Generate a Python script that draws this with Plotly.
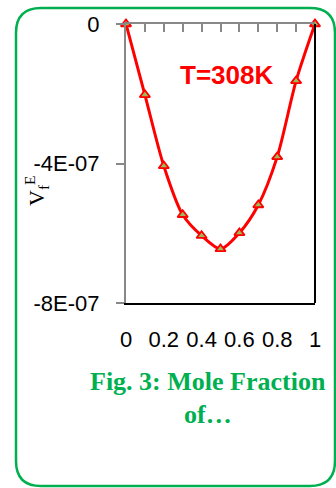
import plotly.graph_objects as go

# Data
mole_fraction = [0.0, 0.1, 0.2, 0.3, 0.4, 0.5, 0.6, 0.7, 0.8, 0.9, 1.0]
vfe = [0.0, -2.03e-7, -4.07e-7, -5.47e-7, -6.07e-7, -6.45e-7, -5.99e-7, -5.19e-7, -3.81e-7, -1.63e-7, 0.0]
y_tickvals = [0, -4e-7, -8e-7]
y_ticktext = ["0", "-4E-07", "-8E-07"]
x_tickvals = [0, 0.2, 0.4, 0.6, 0.8, 1]
x_ticktext = ["0", "0.2", "0.4", "0.6", "0.8", "1"]

W, H = 336, 488
L, R, T, B = 126, 315, 24, 303  # plot area in pixels
PW, PH = R - L, B - T


def px(x):
    return (x - L) / PW


def py(y):
    return (B - y) / PH


fig = go.Figure()
fig.add_trace(go.Scatter(
    x=mole_fraction, y=vfe, mode="lines+markers",
    line=dict(color="#FF0000", width=3, shape="spline", smoothing=0.8),
    marker=dict(symbol="triangle-up", size=9, color="#9BBB59",
                line=dict(color="#FF0000", width=1.8)),
    showlegend=False, cliponaxis=False,
))
# top axis (crossing at 0) with minor ticks
fig.add_trace(go.Scatter(x=[0, 1], y=[None, None], xaxis="x2", showlegend=False,
                         hoverinfo="skip"))

fig.update_layout(
    width=W, height=H,
    margin=dict(l=L, r=W - R, t=T, b=H - B),
    paper_bgcolor="white", plot_bgcolor="white",
    xaxis=dict(range=[0, 1], tickvals=x_tickvals, ticktext=x_ticktext,
               showgrid=False, zeroline=False, showline=True,
               linecolor="#000000", linewidth=2, ticks="",
               ticklabelstandoff=16,
               tickfont=dict(family="Liberation Sans", size=22, color="#000000")),
    xaxis2=dict(range=[0, 1], overlaying="x", side="top", dtick=0.1, tick0=0,
                showgrid=False, zeroline=False, showline=True,
                linecolor="#888888", linewidth=2, ticks="inside", ticklen=8,
                tickcolor="#888888", tickwidth=2, showticklabels=False),
    yaxis=dict(range=[-8e-7, 0], tickvals=y_tickvals, ticktext=y_ticktext,
               showgrid=False, zeroline=False, showline=True,
               linecolor="#888888", linewidth=2, ticks="outside", ticklen=8,
               tickcolor="#888888", tickwidth=2, ticklabelstandoff=12,
               tickfont=dict(family="Liberation Sans", size=22, color="#000000")),
)

# right border
fig.add_shape(type="line", xref="paper", yref="paper", x0=1, x1=1, y0=0, y1=1,
              line=dict(color="#000000", width=2))

# green rounded frame
x0, x1, y0, y1, r = 16, 335, 8, 486, 25
path = (f"M {px(x0 + r)},{py(y0)} L {px(x1 - r)},{py(y0)} "
        f"Q {px(x1)},{py(y0)} {px(x1)},{py(y0 + r)} "
        f"L {px(x1)},{py(y1 - r)} Q {px(x1)},{py(y1)} {px(x1 - r)},{py(y1)} "
        f"L {px(x0 + r)},{py(y1)} Q {px(x0)},{py(y1)} {px(x0)},{py(y1 - r)} "
        f"L {px(x0)},{py(y0 + r)} Q {px(x0)},{py(y0)} {px(x0 + r)},{py(y0)} Z")
fig.add_shape(type="path", xref="paper", yref="paper", path=path,
              line=dict(color="#00B050", width=2.5))

# annotations
common = dict(xref="paper", yref="paper", showarrow=False,
              xanchor="center", yanchor="middle")
fig.add_annotation(x=px(226), y=py(75), text="<b>T=308K</b>",
                   font=dict(family="Liberation Sans", size=26, color="#FF0000"), **common)
fig.add_annotation(x=px(36), y=py(191), text="V<sub>f</sub><sup>E</sup>", textangle=-90,
                   font=dict(family="Liberation Serif", size=22, color="#000000"), **common)
fig.add_annotation(x=px(208), y=py(382), text="<b>Fig. 3: Mole Fraction</b>",
                   font=dict(family="Liberation Serif", size=26, color="#00B050"), **common)
fig.add_annotation(x=px(208), y=py(414), text="<b>of…</b>",
                   font=dict(family="Liberation Serif", size=26, color="#00B050"), **common)

fig.write_html("out.html", config={"displayModeBar": False},
               post_script="document.body.style.margin='0';")
